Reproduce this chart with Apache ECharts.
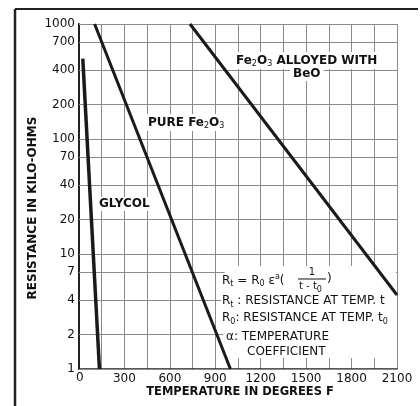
<!DOCTYPE html>
<html><head><meta charset="utf-8">
<script src="https://cdn.jsdelivr.net/npm/echarts@6/dist/echarts.min.js"></script>
<style>html,body{margin:0;background:#fff}#c{width:420px;height:406px}</style>
</head><body><div id="c"></div>
<script>
const yTicks = [1, 2, 4, 7, 10, 20, 40, 70, 100, 200, 400, 700, 1000];
const xTicks = [0, 300, 600, 900, 1200, 1500, 1800, 2100];
const glycolX = [25, 135];
const glycolY = [500, 1];
const pureX = [103, 1000];
const pureY = [1000, 1];
const alloyX = [733, 2100];
const alloyY = [1000, 4.4];

const FONT = 'DejaVu Sans';
const pts = (xs, ys) => xs.map((x, i) => [x, ys[i]]);
const chart = echarts.init(document.getElementById('c'), null, {renderer: 'canvas'});
const lineSeries = (name, xs, ys, w) => ({
  name, type: 'line', data: pts(xs, ys), symbol: 'none', z: 30,
  lineStyle: {color: '#1a1a1a', width: w}, silent: true
});
const sub = {fontSize: 8, verticalAlign: 'bottom', padding: [7, 0, 0, 0], fontFamily: FONT, color: '#111'};
const F12 = '12px "' + FONT + '"';
const B12 = 'bold 12px "' + FONT + '"';
chart.setOption({
  backgroundColor: '#fff',
  animation: false,
  grid: {left: 79, right: 23, top: 24, bottom: 37},
  xAxis: {
    type: 'value', min: 0, max: 2100, interval: 150,
    axisLine: {lineStyle: {color: '#222', width: 1.5}},
    axisTick: {show: false},
    splitLine: {lineStyle: {color: '#8a8a8a', width: 1}},
    axisLabel: {
      color: '#111', fontFamily: FONT, fontSize: 12, margin: 4,
      formatter: v => xTicks.includes(v) && v !== 0 ? String(v) : ''
    }
  },
  yAxis: {
    type: 'log', logBase: 10, min: 1, max: 1000,
    axisLine: {lineStyle: {color: '#222', width: 2}},
    axisTick: {show: false},
    axisLabel: {show: false},
    splitLine: {show: false}
  },
  series: [
    Object.assign(lineSeries('GLYCOL', glycolX, glycolY, 3.5), {
      markLine: {
        silent: true, symbol: ['none', 'none'], z: 1,
        lineStyle: {color: '#8a8a8a', width: 1, type: 'solid'},
        label: {position: 'start', distance: 4, color: '#111', fontFamily: FONT, fontSize: 12,
          formatter: p => String(p.value)},
        data: yTicks.map(v => ({yAxis: v}))
      }
    }),
    lineSeries('PURE Fe2O3', pureX, pureY, 3),
    lineSeries('Fe2O3 ALLOYED WITH BeO', alloyX, alloyY, 3)
  ],
  graphic: [
    {type: 'line', z: 40, shape: {x1: 15, y1: 9, x2: 418, y2: 9}, style: {stroke: '#222', lineWidth: 2}},
    {type: 'line', z: 40, shape: {x1: 15, y1: 9, x2: 15, y2: 406}, style: {stroke: '#222', lineWidth: 2.5}},
    {type: 'text', x: 76, y: 372, z: 10, style: {text: '0', font: F12, fill: '#111'}},
    {type: 'text', z: 10, x: 33, y: 208, rotation: Math.PI / 2, originX: 0, originY: 0,
      style: {text: 'RESISTANCE IN KILO-OHMS', font: B12, fill: '#111',
        align: 'center', verticalAlign: 'middle'}},
    {type: 'text', z: 10, x: 240, y: 392,
      style: {text: 'TEMPERATURE IN DEGREES F', font: 'bold 11.5px "' + FONT + '"', fill: '#111',
        align: 'center', verticalAlign: 'middle'}},
    {type: 'text', left: 97, top: 197, z: 10, style: {
      text: 'GLYCOL', font: B12, fill: '#111', backgroundColor: '#fff', padding: [1, 2]}},
    {type: 'text', left: 146, top: 114, z: 10, style: {
      text: 'PURE Fe{s|2}O{s|3}', font: B12, fill: '#111', backgroundColor: '#fff', padding: [1, 2],
      rich: {s: sub}}},
    {type: 'text', left: 234, top: 52, z: 10, style: {
      text: 'Fe{s|2}O{s|3} ALLOYED WITH', font: B12, fill: '#111', backgroundColor: '#fff', padding: [1, 2],
      rich: {s: sub}}},
    {type: 'text', left: 290, top: 67, z: 10, style: {
      text: 'BeO', font: B12, fill: '#111', backgroundColor: '#fff', padding: [1, 3]}},
    {type: 'polygon', z: 9, shape: {points: [[226, 266], [396, 266], [396, 296], [397, 296], [397, 358], [231, 358], [221, 328], [221, 290]]},
      style: {fill: '#fff'}},
    {type: 'text', left: 222, top: 273, z: 10, style: {
      text: 'R{s|t} = R{s|0} ε{u|a}(', font: F12, fill: '#111',
      rich: {s: sub, u: {fontSize: 8, verticalAlign: 'top', padding: [0, 0, 6, 0], fontFamily: FONT, color: '#111'}}}},
    {type: 'text', x: 312, y: 272, z: 10, style: {text: '1', font: '10px "' + FONT + '"', fill: '#111', align: 'center', verticalAlign: 'middle'}},
    {type: 'line', z: 10, shape: {x1: 298, y1: 279, x2: 326, y2: 279}, style: {stroke: '#111', lineWidth: 1}},
    {type: 'text', left: 299, top: 281, z: 10, style: {
      text: 't - t{s|0}', font: '10px "' + FONT + '"', fill: '#111', rich: {s: sub}}},
    {type: 'text', left: 327, top: 273, z: 10, style: {text: ')', font: F12, fill: '#111'}},
    {type: 'text', left: 222, top: 295, z: 10, style: {
      text: 'R{s|t} : RESISTANCE AT TEMP. t', font: F12, fill: '#111', rich: {s: sub}}},
    {type: 'text', left: 222, top: 312, z: 10, style: {
      text: 'R{s|0}: RESISTANCE AT TEMP. t{s|0}', font: F12, fill: '#111', rich: {s: sub}}},
    {type: 'text', left: 226, top: 331, z: 10, style: {
      text: 'α: TEMPERATURE', font: F12, fill: '#111'}},
    {type: 'text', left: 247, top: 346, z: 10, style: {
      text: 'COEFFICIENT', font: F12, fill: '#111'}}
  ]
});
</script>
</body></html>
